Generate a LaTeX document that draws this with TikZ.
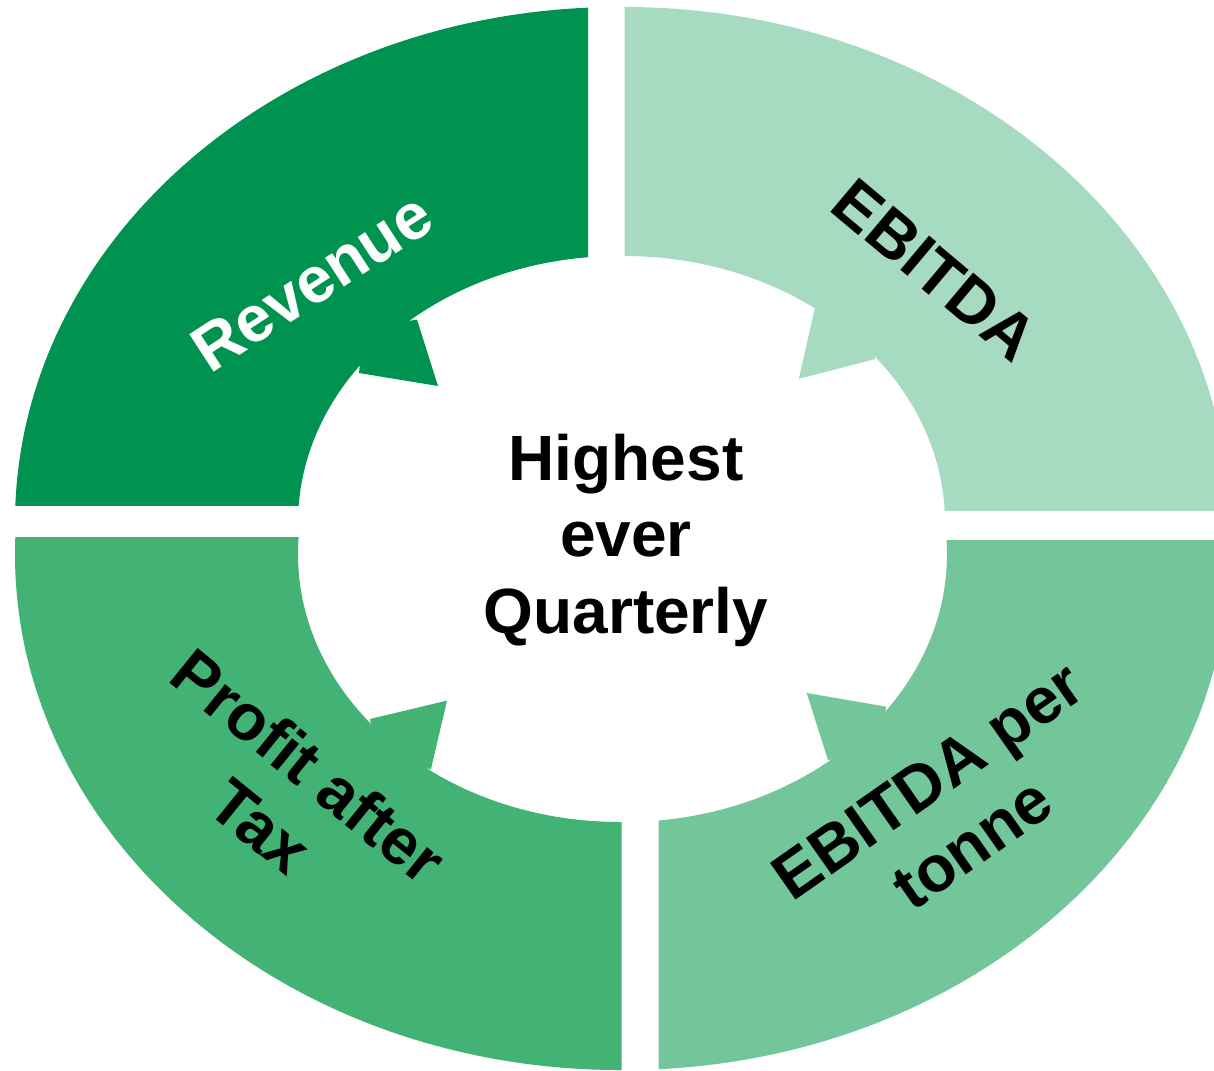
\documentclass[tikz,border=0pt]{standalone}
\usepackage{fontspec}
\setmainfont{Liberation Sans}
\definecolor{revcol}{HTML}{009350}
\definecolor{ebitcol}{HTML}{A6DBC2}
\definecolor{patcol}{HTML}{43B275}
\definecolor{ebtcol}{HTML}{73C59A}
\begin{document}
\begin{tikzpicture}[x=1pt,y=-1pt,
  lbl/.style={font=\fontsize{65}{77}\selectfont\bfseries, align=center, inner sep=0pt},
  ctr/.style={font=\fontsize{64}{76.5}\selectfont\bfseries, align=center, inner sep=0pt}]
\useasboundingbox (0,0) rectangle (1214,1070);
\fill[white] (0,0) rectangle (1214,1070);
% top-left quadrant (Revenue)
\begin{scope}
  \clip (0,0) rectangle (588,505);
  \fill[revcol,even odd rule] (619,523) ellipse [x radius=604pt, y radius=516pt]
                              (619,523) ellipse [x radius=321pt, y radius=267pt];
\end{scope}
\fill[revcol] (417,319.6) -- (438,386) -- (359,373) -- (364,328) -- cycle;
% top-right quadrant (EBITDA)
\begin{scope}
  \clip (624.7,0) rectangle (1214,510);
  \fill[ebitcol,even odd rule] (624,523) ellipse [x radius=605pt, y radius=516pt]
                               (624,523) ellipse [x radius=321pt, y radius=267pt];
\end{scope}
\fill[ebitcol] (814.6,309) -- (798.9,378.8) -- (875.3,359) -- (868,314.5) -- cycle;
% bottom-left quadrant (Profit after Tax)
\begin{scope}
  \clip (0,537) rectangle (621.5,1070);
  \fill[patcol,even odd rule] (620,554) ellipse [x radius=605pt, y radius=516pt]
                              (620,554) ellipse [x radius=322pt, y radius=268pt];
\end{scope}
\fill[patcol] (370,719) -- (447,700.6) -- (431,769) -- (378,763.6) -- cycle;
% bottom-right quadrant (EBITDA per tonne)
\begin{scope}
  \clip (658.7,540) rectangle (1214,1070);
  \fill[ebtcol,even odd rule] (624,554) ellipse [x radius=605pt, y radius=516pt]
                              (624,554) ellipse [x radius=323pt, y radius=268pt];
\end{scope}
\fill[ebtcol] (886,706.6) -- (806.7,693) -- (828,760) -- (881,751.6) -- cycle;
% labels
\node[ctr] (centre) at (626,540) {Highest\\ever\\Quarterly};
\node[lbl, text=white, rotate=33] (rev) at (312,282) {Revenue};
\node[lbl, rotate=-40] (ebitda) at (935,270) {EBITDA};
\node[lbl, rotate=-39] (pat) at (285,796) {Profit after\\Tax};
\node[lbl, rotate=35] (ept) at (950,812) {EBITDA per\\tonne};
\end{tikzpicture}
\end{document}
